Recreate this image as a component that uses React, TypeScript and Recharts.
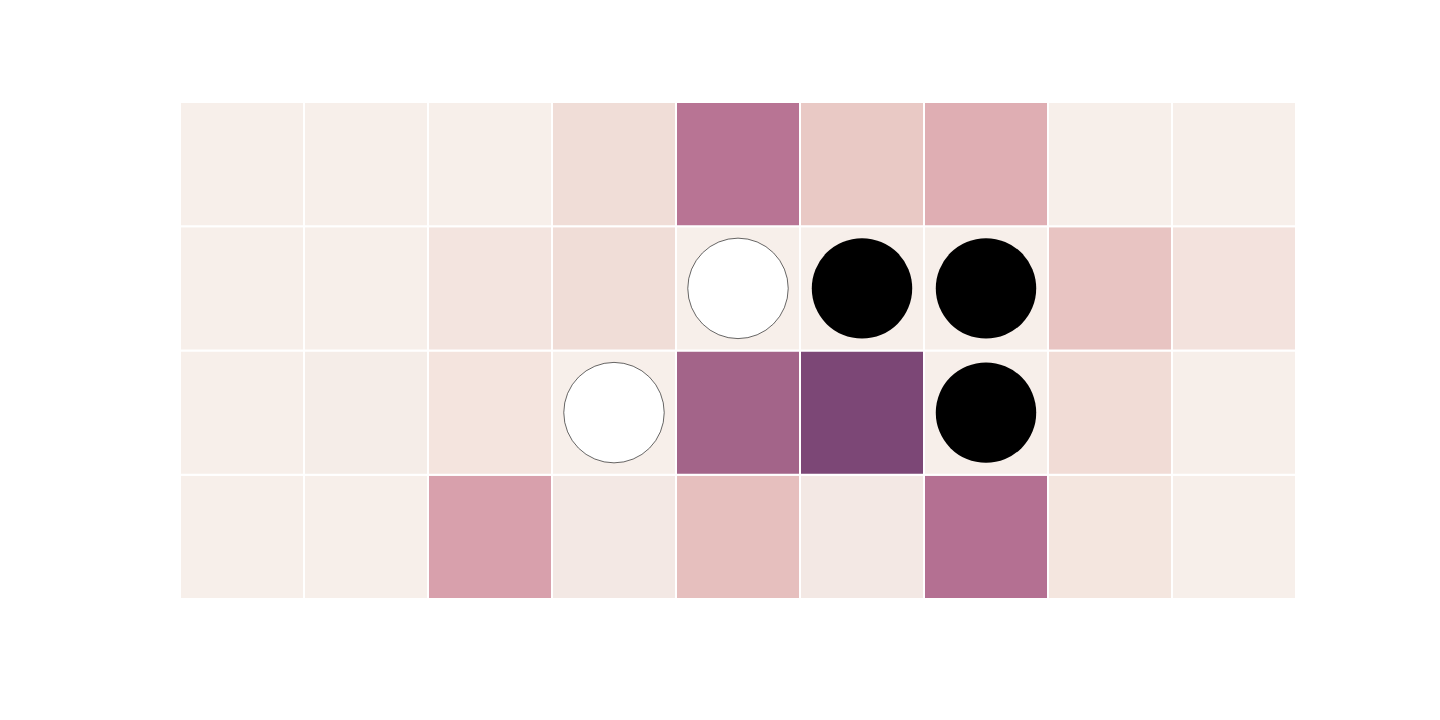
import React from "react";
import { BarChart, Bar, XAxis, YAxis } from "recharts";

// ── Data ─────────────────────────────────────────────────

const COLUMNS = ["c1", "c2", "c3", "c4", "c5", "c6", "c7", "c8", "c9"];

// cell colours, top row first
const ROW_1 = ["#f7efea", "#f7efea", "#f7efea", "#f0ddd7", "#b87494", "#e9c9c5", "#dfaeb3", "#f7efea", "#f7efea"];
const ROW_2 = ["#f7efea", "#f7efea", "#f3e4df", "#f0ddd7", "#f7efea", "#f7efea", "#f7efea", "#e8c4c2", "#f3e2dd"];
const ROW_3 = ["#f7efea", "#f5ede8", "#f4e4de", "#f7efea", "#a36489", "#7c4776", "#f7efea", "#f1dcd6", "#f7efea"];
const ROW_4 = ["#f7efea", "#f7efea", "#d8a0ac", "#f3e8e4", "#e6bfbe", "#f3e8e4", "#b47092", "#f4e6df", "#f7efea"];

// markers: "" none, "o" open circle, "x" filled circle
const MARK_1 = ["", "", "", "", "", "", "", "", ""];
const MARK_2 = ["", "", "", "", "o", "x", "x", "", ""];
const MARK_3 = ["", "", "", "o", "", "", "x", "", ""];
const MARK_4 = ["", "", "", "", "", "", "", "", ""];

const ROWS = [ROW_1, ROW_2, ROW_3, ROW_4];
const MARKS = [MARK_1, MARK_2, MARK_3, MARK_4];

const data = COLUMNS.map((name, col) => ({
  name,
  col,
  r1: 1,
  r2: 1,
  r3: 1,
  r4: 1,
}));

// ── Cell shape ───────────────────────────────────────────

function makeCell(row: number) {
  return (p: any) => {
    const { x, y, width, height, payload } = p;
    const col = payload.col;
    const mark = MARKS[row][col];
    const cx = x + width / 2;
    const cy = y + height / 2;
    const r = Math.min(width, height) * 0.405;
    return (
      <g>
        <rect
          x={x}
          y={y}
          width={width}
          height={height}
          fill={ROWS[row][col]}
          stroke="#ffffff"
          strokeWidth={2}
        />
        {mark === "o" && (
          <circle cx={cx} cy={cy} r={r} fill="#ffffff" stroke="#000000" strokeWidth={0.6} />
        )}
        {mark === "x" && <circle cx={cx} cy={cy} r={r} fill="#000000" />}
      </g>
    );
  };
}

// stacked bottom-up
const STACK = [
  { key: "r4", row: 3 },
  { key: "r3", row: 2 },
  { key: "r2", row: 1 },
  { key: "r1", row: 0 },
];

export default function App() {
  return (
    <div style={{ position: "absolute", left: 0, top: 0, background: "#fff" }}>
      <BarChart
        width={1440}
        height={720}
        data={data}
        barCategoryGap={0}
        margin={{ top: 102, right: 144, bottom: 121, left: 180 }}
      >
        <XAxis dataKey="name" hide />
        <YAxis hide domain={[0, 4]} />
        {STACK.map((s) => (
          <Bar
            key={s.key}
            dataKey={s.key}
            stackId="a"
            isAnimationActive={false}
            shape={makeCell(s.row)}
          />
        ))}
      </BarChart>
    </div>
  );
}
